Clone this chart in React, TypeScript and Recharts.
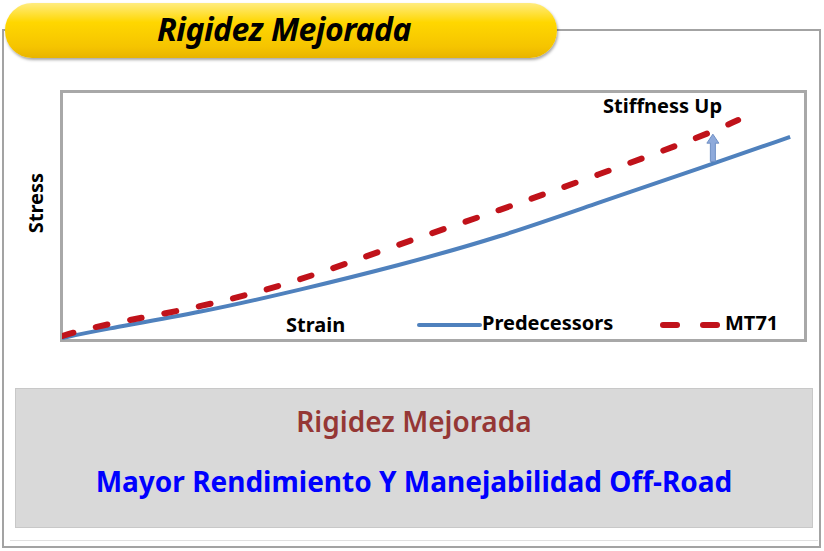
import React from "react";
import { LineChart, Line, XAxis, YAxis, ReferenceLine } from "recharts";

// strain (x) and stress (y), both on a 0-100 scale
const predecessorStrain = [0, 5, 19, 32, 45, 59, 72, 86, 98];
const predecessorStress = [0.8, 4, 11.3, 20.2, 29.8, 41.5, 55.2, 69.4, 81.9];
const mt71Strain = [0, 5, 19, 32, 45, 59, 72, 86, 91];
const mt71Stress = [1.6, 6, 13.3, 23.8, 38.3, 52.4, 66.5, 81.9, 88.7];
const arrowStrain = 87.6;
const arrowFrom = 72;
const arrowTo = 83;

const predecessors = predecessorStrain.map((x, i) => ({ x, y: predecessorStress[i] }));
const mt71 = mt71Strain.map((x, i) => ({ x, y: mt71Stress[i] }));

const FONT = "'Noto Sans', 'Open Sans', sans-serif";
const BLUE = "#4f81bd";
const RED = "#c0121a";

function Arrow(props: any) {
  const { x1, y1, x2, y2 } = props;
  const top = Math.min(y1, y2);
  const bottom = Math.max(y1, y2);
  const x = x1;
  return (
    <path
      d={`M${x - 2.5},${bottom} L${x - 2.5},${top + 9} L${x - 6},${top + 9} L${x},${top} L${x + 6},${top + 9} L${x + 2.5},${top + 9} L${x + 2.5},${bottom} Z`}
      fill="#8eaadb"
      stroke="#6f8fc4"
      strokeWidth={1}
    />
  );
}

const bold: React.CSSProperties = {
  position: "absolute",
  fontFamily: FONT,
  fontWeight: 700,
  fontSize: 20,
  color: "#000",
  whiteSpace: "nowrap",
  lineHeight: 1,
};

export default function App() {
  return (
    <div style={{ position: "absolute", left: 0, top: 0, width: 824, height: 551, background: "#fff", overflow: "hidden" }}>
      {/* outer frame */}
      <div style={{ position: "absolute", left: 2, top: 29, width: 819, height: 519, border: "2px solid #a3a3a3", boxSizing: "border-box" }} />
      {/* yellow tab */}
      <div
        style={{
          position: "absolute", left: 5, top: 3, width: 552, height: 55, borderRadius: 27,
          background: "linear-gradient(#ffec80 0%, #ffd700 35%, #f5c400 80%, #e8b400 100%)",
          boxShadow: "1px 2px 3px rgba(0,0,0,0.35)",
        }}
      />
      <div style={{ ...bold, left: 157, top: 13, fontSize: 32, fontStyle: "italic", letterSpacing: -0.5 }}>Rigidez Mejorada</div>

      {/* plot frame */}
      <div style={{ position: "absolute", left: 60, top: 90, width: 747, height: 252, border: "3px solid #a8a8a8", boxSizing: "border-box" }} />
      <div style={{ position: "absolute", left: 62, top: 92 }}>
        <LineChart width={743} height={248} margin={{ top: 0, right: 0, bottom: 0, left: 0 }}>
          <XAxis type="number" dataKey="x" domain={[0, 100]} hide />
          <YAxis type="number" dataKey="y" domain={[0, 100]} hide />
          <Line data={predecessors} dataKey="y" type="basis" stroke={BLUE} strokeWidth={4} dot={false} isAnimationActive={false} />
          <Line data={mt71} dataKey="y" type="basis" stroke={RED} strokeWidth={6} strokeDasharray="12 23" strokeLinecap="round" dot={false} isAnimationActive={false} />
          <ReferenceLine segment={[{ x: arrowStrain, y: arrowFrom }, { x: arrowStrain, y: arrowTo }]} shape={<Arrow />} />
        </LineChart>
      </div>
      <div style={{ ...bold, left: 603, top: 96 }}>Stiffness Up</div>
      <div style={{ ...bold, left: 26, top: 203, transform: "translate(-50%, -50%) rotate(-90deg)", transformOrigin: "center", marginLeft: 10 }}>Stress</div>
      <div style={{ ...bold, left: 286, top: 315 }}>Strain</div>

      {/* legend */}
      <div style={{ position: "absolute", left: 417, top: 323, width: 65, height: 4, background: BLUE, borderRadius: 2 }} />
      <div style={{ ...bold, left: 482, top: 313 }}>Predecessors</div>
      <div style={{ position: "absolute", left: 660, top: 322, width: 20, height: 6, background: RED, borderRadius: 3 }} />
      <div style={{ position: "absolute", left: 700, top: 322, width: 20, height: 6, background: RED, borderRadius: 3 }} />
      <div style={{ ...bold, left: 725, top: 313 }}>MT71</div>

      {/* bottom box */}
      <div style={{ position: "absolute", left: 15, top: 388, width: 798, height: 140, background: "#d9d9d9", border: "1px solid #c8c8c8", boxSizing: "border-box" }} />
      <div style={{ position: "absolute", left: 15, width: 798, top: 405, textAlign: "center", fontFamily: FONT, fontWeight: 600, fontSize: 28, color: "#953735", lineHeight: 1.2 }}>
        Rigidez Mejorada
      </div>
      <div style={{ position: "absolute", left: 15, width: 798, top: 465, textAlign: "center", fontFamily: FONT, fontWeight: 700, fontSize: 28, color: "#0000ff", lineHeight: 1.2 }}>
        Mayor Rendimiento Y Manejabilidad Off-Road
      </div>
      <div style={{ position: "absolute", left: 10, top: 540, width: 808, height: 1, background: "#e0e0e0" }} />
    </div>
  );
}
